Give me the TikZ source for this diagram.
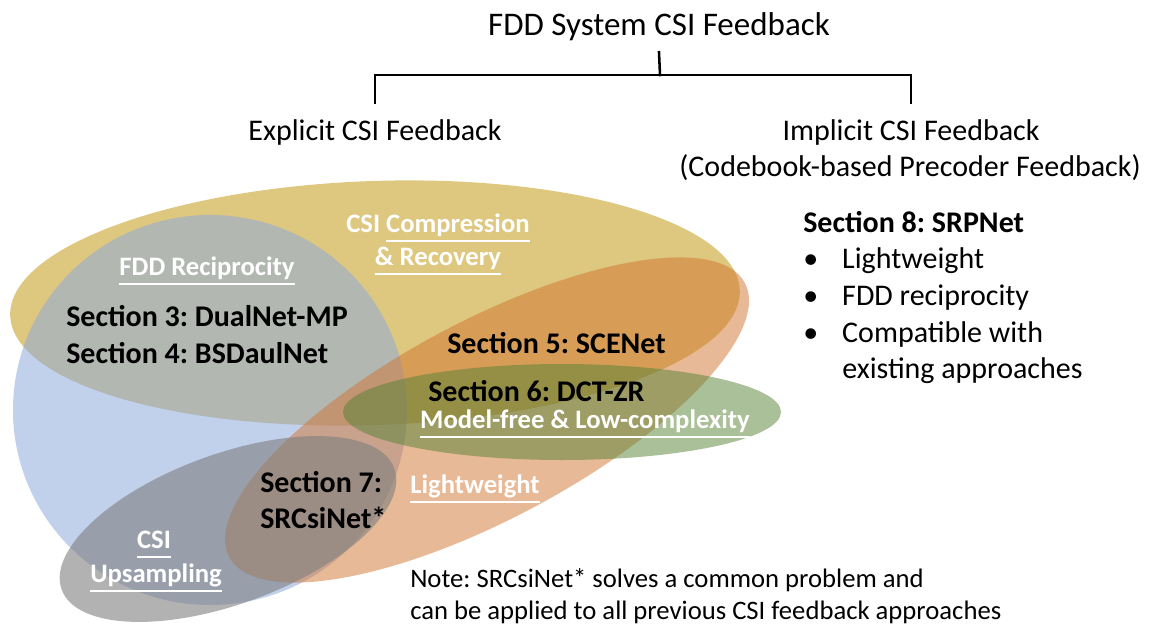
\documentclass[tikz,border=0pt]{standalone}
\usepackage{fontspec}
\setmainfont{Carlito}
\frenchspacing
\definecolor{goldfill}{HTML}{BF9000}
\definecolor{bluefill}{HTML}{8FAADC}
\definecolor{orangefill}{HTML}{D17531}
\definecolor{greenfill}{HTML}{548235}
\definecolor{greyfill}{HTML}{7F7F7F}
% white underline sitting below the descenders
\newsavebox\ulinebox
\newcommand\ulwhite[1]{\sbox\ulinebox{#1}\rlap{\rule[-0.36em]{\wd\ulinebox}{0.065em}}\usebox\ulinebox}
% bullet item with a fixed indent
\newcommand\bitem[1]{\makebox[29.25pt][l]{•}#1}
\tikzset{
  tree/.style={line width=1.9pt, black, line cap=rect},
  blob/.style={fill opacity=#1},
  txt/.style={inner sep=0pt, anchor=base west},
  head/.style={inner sep=0pt, anchor=base, font=\fontsize{22.5pt}{27pt}\selectfont},
  sec/.style={txt, font=\bfseries\fontsize{22.5pt}{27pt}\selectfont},
  tag/.style={inner sep=0pt, anchor=base, text=white, font=\bfseries\fontsize{20pt}{24pt}\selectfont},
  bullet/.style={txt, font=\fontsize{22.5pt}{27pt}\selectfont},
  note/.style={txt, font=\fontsize{20pt}{24pt}\selectfont}
}
\begin{document}
\begin{tikzpicture}[x=0.75pt, y=-0.75pt]
\fill[white] (0,0) rectangle (1152,628);
\useasboundingbox (0,0) rectangle (1152,628);

% overlapping regions
\fill[goldfill, blob=0.5, rotate around={2:(375,303)}] (375,303) ellipse [x radius=365, y radius=122];
\fill[bluefill, blob=0.55] (210,410) ellipse [x radius=197, y radius=195];
\fill[orangefill, blob=0.5, rotate around={28:(487,420)}] (487,420) ellipse [x radius=292, y radius=99];
\fill[greenfill, blob=0.5] (562,412) ellipse [x radius=219, y radius=48];
\fill[greyfill, blob=0.6, rotate around={20:(228,529)}] (228,529) ellipse [x radius=177, y radius=75];

% classification tree
\node[head, font=\fontsize{24.75pt}{30pt}\selectfont] (title) at (659,36) {FDD System CSI Feedback};
\node[head] (expl) at (375,140) {Explicit CSI Feedback};
\node[head] (impl) at (911,140) {Implicit CSI Feedback};
\node[head] (implsub) at (910,176) {(Codebook-based Precoder Feedback)};
\coordinate (junction) at (660,75);
\draw[tree] ([yshift=-8pt]title.south) -- (junction);
\draw[tree] ([yshift=12pt]expl.north) |- (junction) -| ([yshift=12pt]impl.north);

% region labels
\node[tag] (compA) at (438,232) {CSI \ulwhite{Compression}};
\node[tag] (compB) at (438,265) {\ulwhite{\& Recovery}};
\node[tag] (recip) at (207,275) {\ulwhite{FDD Reciprocity}};
\node[tag] (model) at (585,428) {\ulwhite{Model-free \& Low-complexity}};
\node[tag] (light) at (475,493) {\ulwhite{Lightweight}};
\node[tag] (csiA) at (154,548) {\ulwhite{CSI}};
\node[tag] (csiB) at (156,582) {\ulwhite{Upsampling}};

% sections
\node[sec] (s3) at (66,326) {Section 3: DualNet-MP};
\node[sec] (s4) at (66,363) {Section 4: BSDaulNet};
\node[sec] (s5) at (447,353) {Section 5: SCENet};
\node[sec] (s6) at (428,401) {Section 6: DCT-ZR};
\node[sec] (s7a) at (260,492) {Section 7:};
\node[sec] (s7b) at (260,528) {SRCsiNet*};

% implicit approach
\node[sec] (s8) at (803,232) {Section 8: SRPNet};
\node[bullet] (b1) at (803,268) {\bitem{Lightweight}};
\node[bullet] (b2) at (803,305) {\bitem{FDD reciprocity}};
\node[bullet] (b3) at (803,342) {\bitem{Compatible with}};
\node[bullet] (b4) at (842,378) {existing approaches};

% remark
\node[note] (n1) at (410,587) {Note: SRCsiNet* solves a common problem and};
\node[note] (n2) at (410,619) {can be applied to all previous CSI feedback approaches};
\end{tikzpicture}
\end{document}
